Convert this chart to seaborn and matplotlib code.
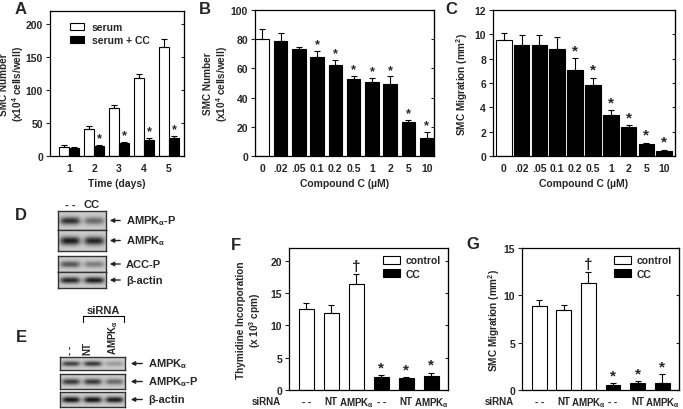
import numpy as np
import pandas as pd
import matplotlib
matplotlib.use("Agg")
import matplotlib.pyplot as plt
import seaborn as sns

# Panel A: SMC number over time
days = ["1", "2", "3", "4", "5"]
serum = [14, 41, 73, 118, 166]
serum_err = [2, 4, 4, 7, 11]
serum_cc = [12, 15, 19, 25, 28]
serum_cc_err = [2, 2, 3, 2, 2]
a_marks = ["", "*", "*", "*", "*"]

# Panels B and C: compound C dose response
cc_doses = ["0", ".02", ".05", "0.1", "0.2", "0.5", "1", "2", "5", "10"]
smc_number = [80, 79, 73, 68, 62, 53, 51, 49, 23, 12]
smc_number_err = [7, 5, 1.5, 4, 4, 2, 2.5, 5.5, 1.5, 4.5]
b_marks = ["", "", "", "*", "*", "*", "*", "*", "*", "*"]
migration = [9.5, 9.15, 9.1, 8.8, 7.1, 5.8, 3.35, 2.35, 1.0, 0.45]
migration_err = [0.6, 0.8, 0.85, 1.0, 0.95, 0.65, 0.45, 0.2, 0.1, 0.07]
c_marks = ["", "", "", "", "*", "*", "*", "*", "*", "*"]

# Panels F and G: siRNA experiments
sirna_labels = ["- -", "NT", "AMPK$_α$", "- -", "NT", "AMPK$_α$"]
treatment = ["control", "control", "control", "CC", "CC", "CC"]
thymidine = [12.5, 11.9, 16.5, 2.0, 1.8, 2.2]
thymidine_err = [1.0, 1.3, 1.5, 0.3, 0.2, 0.5]
sirna_migration = [8.9, 8.5, 11.3, 0.55, 0.7, 0.75]
sirna_migration_err = [0.6, 0.45, 1.2, 0.15, 0.25, 0.95]
fg_marks = ["", "", "†", "*", "*", "*"]

# Western blots (relative band darkness per lane)
d_lanes = ["- -", "CC"]
d_rows = ["AMPK$_α$-P", "AMPK$_α$", "ACC-P", "β-actin"]
d_bands = [[0.8, 0.5], [0.9, 0.85], [0.6, 0.4], [0.85, 0.9]]
e_lanes = ["- -", "NT", "AMPK$_α$"]
e_rows = ["AMPK$_α$", "AMPK$_α$-P", "β-actin"]
e_bands = [[0.7, 0.75, 0.25], [0.75, 0.75, 0.5], [0.95, 0.95, 0.9]]

sns.set_style("ticks")
plt.rcParams["font.family"] = ["Liberation Sans", "DejaVu Sans"]
plt.rcParams["font.weight"] = "bold"
plt.rcParams["axes.labelweight"] = "bold"
plt.rcParams["mathtext.fontset"] = "custom"
plt.rcParams["mathtext.rm"] = "Liberation Sans:bold"
plt.rcParams["mathtext.it"] = "Liberation Sans:bold"
plt.rcParams["mathtext.bf"] = "Liberation Sans:bold"
plt.rcParams["mathtext.default"] = "rm"

W, H = 683, 410
fig = plt.figure(figsize=(W / 100, H / 100), dpi=100)


def box(x0, y0, x1, y1):
    return [x0 / W, 1 - y1 / H, (x1 - x0) / W, (y1 - y0) / H]


def fx(x, y):
    return (x / W, 1 - y / H)


FS = 7.5


def style_axes(ax, ylim, yticks, ylabel, label_x, xfs=FS, xpad=5):
    ax.set_ylim(*ylim)
    ax.set_yticks(yticks)
    ax.set_ylabel(ylabel, fontsize=7.2, fontweight="bold", linespacing=1.1)
    ax.yaxis.set_label_coords(label_x, 0.5)
    ax.set_xlabel("")
    ax.tick_params(axis="y", direction="out", length=3, width=0.8, labelsize=FS, pad=2)
    ax.tick_params(axis="x", length=0, labelsize=xfs, pad=xpad)
    for lab in ax.get_xticklabels() + ax.get_yticklabels():
        lab.set_fontweight("bold")
    for sp in ax.spines.values():
        sp.set_linewidth(0.9)
        sp.set_color("black")
    sec = ax.secondary_yaxis("right")
    sec.set_yticks(yticks)
    sec.set_yticklabels([])
    sec.tick_params(direction="in", length=2.5, width=0.8)


def add_errors(ax, vals, errs, marks, mark_size=10):
    bars = [b for c in ax.containers for b in c]
    bars.sort(key=lambda b: b.get_x())
    xs = [b.get_x() + b.get_width() / 2 for b in bars]
    ax.errorbar(xs, vals, yerr=[np.zeros(len(vals)), errs], fmt="none",
                ecolor="black", elinewidth=0.8, capsize=2.5, capthick=0.8, zorder=5)
    span = ax.get_ylim()[1]
    for x, v, e, m in zip(xs, vals, errs, marks):
        if m:
            ax.text(x, v + e + span * 0.005, m, ha="center", va="bottom",
                    fontsize=mark_size, fontweight="bold")


# ---- Panel A ----
axA = fig.add_axes(box(50, 12, 184, 157))
dfA = pd.DataFrame({
    "day": days * 2,
    "value": serum + serum_cc,
    "group": ["serum"] * 5 + ["serum + CC"] * 5,
})
sns.barplot(data=dfA, x="day", y="value", hue="group", ax=axA,
            palette={"serum": "white", "serum + CC": "black"},
            edgecolor="black", linewidth=0.8, width=0.8, errorbar=None)
valsA, errsA, marksA = [], [], []
for i in range(len(days)):
    valsA += [serum[i], serum_cc[i]]
    errsA += [serum_err[i], serum_cc_err[i]]
    marksA += ["", a_marks[i]]
axA.set_xlim(-0.76, 4.6)
style_axes(axA, (0, 220), [0, 50, 100, 150, 200], "SMC Number\n(x10$^{4}$ cells/well)", -0.18)
add_errors(axA, valsA, errsA, marksA, mark_size=9)
axA.set_xlabel("Time (days)", fontsize=FS, fontweight="bold")
axA.legend(loc="upper left", bbox_to_anchor=(0.08, 0.99), frameon=False,
           handlelength=1.3, handleheight=0.7, labelspacing=0.3,
           prop={"weight": "bold", "size": FS})

# ---- Panel B ----
axB = fig.add_axes(box(255, 11, 434, 157))
dfB = pd.DataFrame({"dose": cc_doses, "value": smc_number})
sns.barplot(data=dfB, x="dose", y="value", hue="dose", ax=axB,
            palette=["white"] + ["black"] * 9, legend=False,
            edgecolor="black", linewidth=0.8, width=0.75, errorbar=None)
axB.set_xlim(-0.4, 9.4)
style_axes(axB, (0, 100), [0, 20, 40, 60, 80, 100], "SMC Number\n(x10$^{4}$ cells/well)", -0.14)
add_errors(axB, smc_number, smc_number_err, b_marks, mark_size=9)
axB.set_xlabel("Compound C (µM)", fontsize=FS, fontweight="bold")

# ---- Panel C ----
axC = fig.add_axes(box(493, 11, 675, 157))
dfC = pd.DataFrame({"dose": cc_doses, "value": migration})
sns.barplot(data=dfC, x="dose", y="value", hue="dose", ax=axC,
            palette=["white"] + ["black"] * 9, legend=False,
            edgecolor="black", linewidth=0.8, width=0.88, errorbar=None)
axC.set_xlim(-0.6, 9.6)
style_axes(axC, (0, 12), [0, 2, 4, 6, 8, 10, 12], "SMC Migration (mm$^{2}$)", -0.126)
add_errors(axC, migration, migration_err, c_marks, mark_size=11)
axC.set_xlabel("Compound C (µM)", fontsize=FS, fontweight="bold")


# ---- Panels F and G ----
def sirna_panel(rect, vals, errs, ylim, yticks, ylabel, label_x):
    ax = fig.add_axes(rect)
    df = pd.DataFrame({"pos": list(range(6)), "value": vals, "treatment": treatment})
    sns.barplot(data=df, x="pos", y="value", hue="treatment", dodge=False, ax=ax,
                palette={"control": "white", "CC": "black"},
                edgecolor="black", linewidth=0.8, width=0.6, errorbar=None)
    ax.set_xlim(-0.7, 5.68)
    style_axes(ax, ylim, yticks, ylabel, label_x, xfs=7, xpad=4)
    ax.set_xticks(range(6))
    ax.set_xticklabels(sirna_labels, fontsize=7, fontweight="bold")
    add_errors(ax, vals, errs, fg_marks, mark_size=11)
    ax.text(-0.05, -0.04, "siRNA", transform=ax.transAxes, ha="right", va="top",
            fontsize=7, fontweight="bold")
    ax.legend(loc="upper right", bbox_to_anchor=(1.0, 1.0), frameon=False,
              handlelength=1.7, handleheight=0.8, labelspacing=0.35, handletextpad=0.5,
              borderaxespad=0.3, prop={"weight": "bold", "size": FS})
    return ax


axF = sirna_panel(box(289, 249, 448, 391), thymidine, thymidine_err, (0, 22),
                  [0, 5, 10, 15, 20], "Thymidine Incorporation\n(x 10$^{3}$ cpm)", -0.164)
axG = sirna_panel(box(522, 249, 679, 391), sirna_migration, sirna_migration_err, (0, 15),
                  [0, 5, 10, 15], "SMC Migration (mm$^{2}$)", -0.127)


# ---- Western blots ----
def blot(rect, bands):
    ax = fig.add_axes(rect)
    nx, ny = 120, 30
    xx = np.arange(nx)
    yy = np.arange(ny)[:, None]
    n = len(bands)
    img = np.full((ny, nx), 0.8)
    vert = np.exp(-((yy - ny / 2) / (ny * 0.2)) ** 2)
    for j, s in enumerate(bands):
        c = (j + 0.5) * nx / n
        horiz = np.exp(-((xx - c) / (0.42 * nx / n)) ** 4)
        img -= 0.78 * s * vert * horiz[None, :]
    ax.imshow(np.clip(img, 0, 1), cmap="gray", vmin=0, vmax=1, aspect="auto",
              interpolation="bilinear")
    ax.set_xticks([])
    ax.set_yticks([])
    for sp in ax.spines.values():
        sp.set_linewidth(1.0)
        sp.set_color("#333333")
    return ax


def blot_label(y, x0, x1, text):
    fig.add_artist(matplotlib.patches.FancyArrowPatch(
        fx(x1, y), fx(x0, y), transform=fig.transFigure, arrowstyle="-|>",
        mutation_scale=6, color="#222222", lw=1.0))
    fig.text(*fx(x1 + 3, y), text, ha="left", va="center", fontsize=8, fontweight="bold")


d_boxes = [(212, 231), (231, 252), (257, 273), (273, 289)]
for (y0, y1), b, name in zip(d_boxes, d_bands, d_rows):
    blot(box(58, y0, 106, y1), b)
    blot_label((y0 + y1) / 2, 107, 123, name)
for lx, lane in zip([70, 92], d_lanes):
    fig.text(*fx(lx, 205), lane, ha="center", va="center", fontsize=8, fontweight="bold")

e_boxes = [(358, 371), (375, 390), (393, 408)]
for (y0, y1), b, name in zip(e_boxes, e_bands, e_rows):
    blot(box(60, y0, 125, y1), b)
    blot_label((y0 + y1) / 2, 128, 145, name)
for lx, lane in zip([70, 87, 113], e_lanes):
    fig.text(*fx(lx, 355), lane, ha="center", va="bottom", rotation=90,
             fontsize=7, fontweight="bold")
fig.text(*fx(103, 311), "siRNA", ha="center", va="center", fontsize=8, fontweight="bold")
bx = [83, 83, 124, 124]
by = [323, 317, 317, 323]
fig.add_artist(matplotlib.lines.Line2D([v / W for v in bx], [1 - v / H for v in by],
                                       transform=fig.transFigure, color="black", lw=0.8))

# panel letters
for letter, (x, y) in zip("ABCDEFG", [(21, 9), (205, 9), (451, 9), (21, 216),
                                       (21, 338), (236, 246), (473, 245)]):
    fig.text(*fx(x, y), letter, ha="center", va="center", fontsize=12, fontweight="bold")

fig.savefig("out.png", dpi=100)
